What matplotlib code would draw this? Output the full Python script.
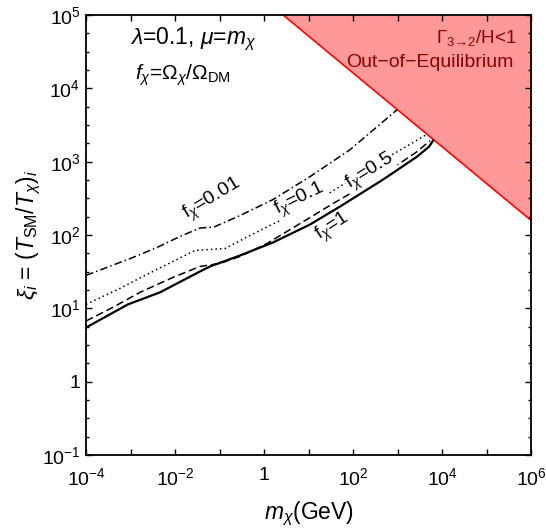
import numpy as np
import matplotlib
matplotlib.use('Agg')
import matplotlib.pyplot as plt
from matplotlib.ticker import FixedLocator, FuncFormatter, NullFormatter

plt.rcParams['font.family'] = ['Liberation Sans', 'DejaVu Sans']
plt.rcParams['mathtext.fontset'] = 'custom'
plt.rcParams['mathtext.rm'] = 'Liberation Sans'
plt.rcParams['mathtext.it'] = 'Liberation Sans:italic'
plt.rcParams['mathtext.bf'] = 'Liberation Sans:bold'

# ---- data (log10 values) ----
f1_logm = [-4.0, -3.056, -2.337, -1.438, -1.213, -0.539, 0.202, 1.034, 1.708, 2.674, 3.438, 3.708, 3.798]
f1_logxi = [0.738, 1.054, 1.218, 1.503, 1.571, 1.721, 1.898, 2.143, 2.388, 2.755, 3.068, 3.204, 3.286]

f05_logm = [-4.0, -3.393, -2.787, -2.045, -1.438, -0.989, -0.539, 0.067, 1.034, 1.551, 2.674, 3.438, 3.730]
f05_logxi = [0.827, 1.014, 1.218, 1.422, 1.571, 1.612, 1.707, 1.884, 2.238, 2.429, 2.823, 3.136, 3.286]

f01_logm = [-4.0, -3.236, -2.629, -2.045, -1.551, -0.876, -0.315, 0.584, 1.034, 1.416, 2.382, 3.663]
f01_logxi = [1.054, 1.272, 1.463, 1.639, 1.789, 1.816, 1.993, 2.265, 2.388, 2.551, 2.918, 3.373]

f001_logm = [-4.0, -2.944, -2.404, -1.888, -1.438, -1.124, -0.539, 0.202, 1.034, 1.933, 2.989]
f001_logxi = [1.449, 1.694, 1.830, 1.980, 2.095, 2.109, 2.265, 2.483, 2.796, 3.163, 3.707]

bound_logm = [0.43, 6.0]
bound_logxi = [5.0, 2.2]

x_tick_exp = list(range(-4, 7))
y_tick_exp = list(range(-1, 6))

fig = plt.figure(figsize=(5.46, 5.29), dpi=100)
ax = fig.add_axes([86/546, 1-455/529, 445/546, 440/529])
ax.set_xscale('log')
ax.set_yscale('log')
ax.set_xlim(1e-4, 1e6)
ax.set_ylim(1e-1, 1e5)

# out-of-equilibrium region
bm = 10**np.array(bound_logm)
bx = 10**np.array(bound_logxi)
ax.fill_between(bm, bx, 1e5, color='#FF9999', linewidth=0, zorder=1)
ax.plot(bm, bx, color='#FF0000', lw=1.2, zorder=2)

ax.plot(10**np.array(f1_logm), 10**np.array(f1_logxi), color='black', lw=1.6, zorder=4)
ax.plot(10**np.array(f05_logm), 10**np.array(f05_logxi), color='black', lw=1.1,
        linestyle=(0, (5, 2.5)), zorder=3)
ax.plot(10**np.array(f01_logm), 10**np.array(f01_logxi), color='black', lw=1.1,
        linestyle=(0, (1, 2)), zorder=3)
ax.plot(10**np.array(f001_logm), 10**np.array(f001_logxi), color='black', lw=1.1,
        linestyle=(0, (5, 2, 1, 2)), zorder=4)

# curve labels
lab_kw = dict(ha='center', va='center', rotation_mode='anchor', fontsize=14)
ax.text(10**-1.15, 10**2.48, r'f$_\chi$=0.01', rotation=31, **lab_kw)
ax.text(10**0.809, 10**2.483, r'f$_\chi$=0.1', rotation=26,
        bbox=dict(facecolor='white', edgecolor='none', pad=0.3), zorder=3.5, **lab_kw)
ax.text(10**2.382, 10**2.864, r'f$_\chi$=0.5', rotation=32,
        bbox=dict(facecolor='white', edgecolor='none', pad=0.3), zorder=3.5, **lab_kw)
ax.text(10**1.551, 10**2.102, r'f$_\chi$=1', rotation=33, **lab_kw)

# annotations
ax.text(0.240, 0.945, r'$\lambda$=0.1, $\mu$=$m_\chi$', transform=ax.transAxes,
        ha='center', va='center', fontsize=16.5)
ax.text(0.218, 0.864, r'$f_\chi$=$\Omega_\chi$/$\Omega_{\mathrm{DM}}$', transform=ax.transAxes,
        ha='center', va='center', fontsize=15)
ax.text(0.9685, 0.948, r'$\Gamma_{3\!\to\!2}$/H<1', transform=ax.transAxes,
        ha='right', va='center', fontsize=13.5, color='#8B0000')
ax.text(0.9596, 0.893, 'Out\u2212of\u2212Equilibrium', transform=ax.transAxes,
        ha='right', va='center', fontsize=14, color='#8B0000')

# ticks
def fmt(v, pos):
    e = int(round(np.log10(v)))
    if e == 0:
        return '1'
    return r'$10^{%d}$' % e

def xfmt(v, pos):
    e = int(round(np.log10(v)))
    if e % 2 != 0:
        return ''
    return fmt(v, pos)

ax.xaxis.set_major_locator(FixedLocator([10.0**e for e in x_tick_exp]))
ax.xaxis.set_major_formatter(FuncFormatter(xfmt))
ax.xaxis.set_minor_locator(FixedLocator([]))
ax.xaxis.set_minor_formatter(NullFormatter())
ax.yaxis.set_major_locator(FixedLocator([10.0**e for e in y_tick_exp]))
ax.yaxis.set_major_formatter(FuncFormatter(fmt))
ax.yaxis.set_minor_locator(FixedLocator([10.0**(e + q) for e in y_tick_exp[:-1] for q in (0.25, 0.5, 0.75)]))
ax.yaxis.set_minor_formatter(NullFormatter())
ax.tick_params(which='both', direction='in', top=True, right=True, labelsize=14, width=1.0)
ax.tick_params(which='major', length=4)
ax.tick_params(which='minor', length=2.5)
ax.tick_params(axis='x', pad=9)
ax.tick_params(axis='y', pad=4)
for s in ax.spines.values():
    s.set_linewidth(1.3)

ax.set_xlabel(r'$m_\chi$(GeV)', fontsize=16.5, labelpad=7)
ax.set_ylabel(r'$\xi_i$ = $(T_{\mathrm{SM}}/T_\chi)_i$', fontsize=16.5, labelpad=-1)

fig.savefig('out.png', dpi=100)
